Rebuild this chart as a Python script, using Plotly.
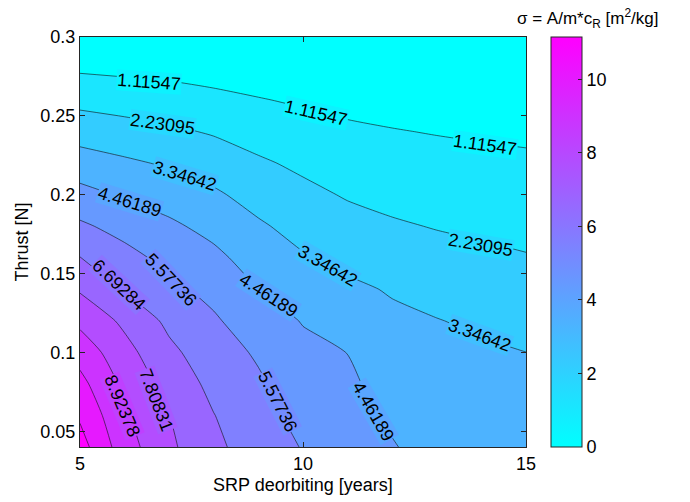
import plotly.graph_objects as go

# ---- data ----
srp_years = [5, 6, 7, 8, 9, 10, 11, 12, 13, 14, 15]
thrust_N = [0.04, 0.06, 0.08, 0.10, 0.12, 0.14, 0.16, 0.18, 0.20, 0.22, 0.24, 0.26, 0.28, 0.30]

# sigma [m^2/kg], one row per thrust value (bottom to top), columns = srp_years
row_004 = [11.62, 9.41, 8.02, 6.92, 6.17, 5.52, 5.02, 4.53, 4.05, 4.25, 4.38]
row_006 = [11.00, 9.08, 7.82, 6.72, 5.95, 5.25, 4.83, 4.30, 3.88, 4.00, 4.04]
row_008 = [10.37, 8.67, 7.38, 6.40, 5.73, 4.98, 4.65, 4.05, 3.72, 3.74, 3.69]
row_010 = [9.61, 8.18, 6.94, 6.06, 5.44, 4.71, 4.45, 3.80, 3.55, 3.49, 3.35]
row_012 = [8.66, 7.58, 6.44, 5.72, 4.95, 4.41, 4.00, 3.55, 3.38, 3.19, 3.00]
row_014 = [7.69, 6.60, 5.84, 5.26, 4.47, 3.92, 3.55, 3.26, 3.01, 2.81, 2.64]
row_016 = [6.72, 5.94, 5.25, 4.72, 3.97, 3.44, 3.08, 2.80, 2.59, 2.43, 2.29]
row_018 = [5.76, 5.19, 4.66, 4.13, 3.49, 2.97, 2.61, 2.35, 2.18, 2.06, 1.95]
row_020 = [4.81, 4.34, 3.97, 3.51, 2.94, 2.50, 2.14, 1.94, 1.81, 1.71, 1.61]
row_022 = [3.85, 3.52, 3.22, 2.83, 2.38, 2.02, 1.71, 1.55, 1.44, 1.35, 1.28]
row_024 = [2.88, 2.65, 2.41, 2.13, 1.78, 1.51, 1.28, 1.16, 1.07, 1.00, 0.94]
row_026 = [1.93, 1.76, 1.60, 1.40, 1.17, 0.99, 0.85, 0.77, 0.70, 0.64, 0.60]
row_028 = [0.97, 0.88, 0.80, 0.65, 0.57, 0.48, 0.42, 0.39, 0.33, 0.29, 0.26]
row_030 = [0.05, 0.04, 0.03, 0.02, 0.02, 0.01, 0.01, 0.00, 0.00, 0.00, 0.00]
sigma = [row_004, row_006, row_008, row_010, row_012, row_014, row_016,
         row_018, row_020, row_022, row_024, row_026, row_028, row_030]

level_step = 1.1154727
n_levels = 10
sigma_max = 11.1547
y_tickvals = [0.05, 0.1, 0.15, 0.2, 0.25, 0.3]
y_ticktext = ["0.05", "0.1", "0.15", "0.2", "0.25", "0.3"]
x_tickvals = [5, 10, 15]
cbar_ticks = [0, 2, 4, 6, 8, 10]

# contour label placement as in the reference: (level index, x, y, angle)
label_level = [1, 1, 1, 2, 2, 3, 3, 3, 4, 4, 4, 5, 5, 6, 7, 8]
label_x = [6.55, 10.29, 14.08, 6.84, 13.99, 7.35, 10.56, 13.95, 6.12, 9.22, 11.59, 7.04, 9.42, 5.87, 6.70, 5.94]
label_y = [0.2714, 0.2517, 0.2314, 0.2448, 0.168, 0.2117, 0.1546, 0.1108, 0.1952, 0.1362, 0.0625, 0.1457, 0.0689, 0.1425, 0.0695, 0.0657]
label_angle = [4, 13, 8, 8, 10, 17, 30, 20, 17, 33, 60, 46, 63, 43, 69, 67]

FONT = "Liberation Sans, Arial, Helvetica, sans-serif"
AXC = "#262626"
cool = [[0, "rgb(0,255,255)"], [1, "rgb(255,0,255)"]]


def cool_rgb(f):
    f = max(0.0, min(1.0, f))
    return "rgb(%d,%d,255)" % (round(255 * f), round(255 * (1 - f)))


fig = go.Figure()
fig.add_trace(go.Contour(
    x=srp_years, y=thrust_N, z=sigma,
    colorscale=cool,
    contours=dict(start=level_step, end=n_levels * level_step, size=level_step,
                  coloring="fill", showlabels=False),
    line=dict(color="#111111", width=0.6, smoothing=0.6),
    showscale=False, hoverinfo="skip",
))
# continuous colour bar as in the original
fig.add_trace(go.Scatter(
    x=[None], y=[None], mode="markers", showlegend=False, hoverinfo="skip",
    marker=dict(color=[0], cmin=0, cmax=sigma_max, colorscale=cool, showscale=True,
                colorbar=dict(x=1.056, xanchor="left", xpad=0, y=0.5, yanchor="middle",
                              len=1, lenmode="fraction", thickness=31, ypad=0,
                              outlinecolor=AXC, outlinewidth=1,
                              tickvals=cbar_ticks, ticks="inside", ticklen=4,
                              tickcolor=AXC,
                              tickfont=dict(family=FONT, size=18, color="black"))),
))

# contour labels (line interrupted behind the text, as in MATLAB clabel)
for k, lx, ly, ang in zip(label_level, label_x, label_y, label_angle):
    fig.add_annotation(x=lx, y=ly, xref="x", yref="y", showarrow=False,
                       text="%.6g" % (k * level_step), textangle=ang,
                       font=dict(family=FONT, size=18, color="black"),
                       bgcolor=cool_rgb((k - 0.5) / n_levels), borderpad=0)

fig.update_xaxes(range=[5, 15], tickvals=x_tickvals, ticks="inside", ticklen=5,
                 tickcolor=AXC, showline=True, linecolor=AXC, linewidth=1,
                 mirror="ticks", showgrid=False, zeroline=False,
                 tickfont=dict(family=FONT, size=18, color="black"))
fig.update_yaxes(range=[0.04, 0.3], tickvals=y_tickvals, ticktext=y_ticktext,
                 ticks="inside", ticklen=5, tickcolor=AXC, showline=True,
                 linecolor=AXC, linewidth=1, mirror="ticks", showgrid=False,
                 zeroline=False, tickfont=dict(family=FONT, size=18, color="black"))

fig.add_annotation(text="SRP deorbiting [years]", xref="paper", yref="paper",
                   x=0.5, y=-0.093, xanchor="center", yanchor="middle",
                   showarrow=False, font=dict(family=FONT, size=18, color="black"))
fig.add_annotation(text="Thrust [N]", xref="paper", yref="paper",
                   x=-0.131, y=0.5, xanchor="center", yanchor="middle", textangle=-90,
                   showarrow=False, font=dict(family=FONT, size=18, color="black"))
fig.add_annotation(text="σ = A/m*c<sub>R</sub> [m<sup>2</sup>/kg]", xref="paper", yref="paper",
                   x=1.30, y=1.046, xanchor="right", yanchor="middle",
                   showarrow=False, font=dict(family=FONT, size=17, color="black"))

fig.update_layout(width=690, height=502, autosize=False,
                  margin=dict(l=80, r=164, t=37, b=55),
                  paper_bgcolor="white", plot_bgcolor="white",
                  font=dict(family=FONT, color="black"))
fig.write_html("out.html")
